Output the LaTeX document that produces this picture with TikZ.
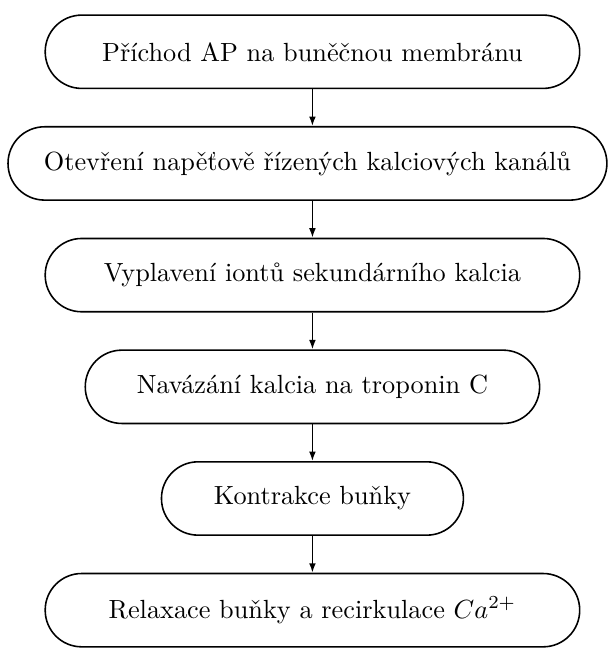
\documentclass[tikz,border=0pt]{standalone}
\usepackage{amsmath}
\usepackage{tikz}
\usetikzlibrary{positioning, arrows.meta}

\tikzset{krok/.style={draw, line width=0.6pt, rounded corners=13.9pt, minimum height=27.9pt, inner sep=2pt}}
\tikzset{sipka/.style={-{Latex[length=3.6pt,width=2.6pt]}, line width=0.6pt}}

\begin{document}
\begin{tikzpicture}[-, node distance = 14pt, auto]
\node[krok, minimum width=203.4pt] (prichod) {Příchod AP na buněčnou membránu};
\node[krok, minimum width=227.9pt, below=of prichod, xshift=-1.9pt] (otevreni) {Otevření napěťově řízených kalciových kanálů};
\draw[sipka](prichod) -- (prichod |- otevreni.north);
\node[krok, minimum width=203.4pt, below=of otevreni, xshift=1.9pt] (vyplaveni) {Vyplavení iontů sekundárního kalcia};
\draw[sipka](otevreni.south -| vyplaveni) -- (vyplaveni);
\node[krok, minimum width=172.9pt, below=of vyplaveni] (navazani) {Navázání kalcia na troponin C};
\draw[sipka](vyplaveni) -- (navazani);
\node[krok, minimum width=114.9pt, below=of navazani] (kontrakce) {Kontrakce buňky};
\draw[sipka](navazani) -- (kontrakce);
\node[krok, minimum width=203.4pt, below=of kontrakce] (relaxace) {Relaxace buňky a recirkulace \(Ca^{2+}\)};
\draw[sipka](kontrakce) -- (relaxace);
\useasboundingbox (-118.9pt,19.7pt) rectangle (112.8pt,-228.8pt);
\end{tikzpicture}
\end{document}
